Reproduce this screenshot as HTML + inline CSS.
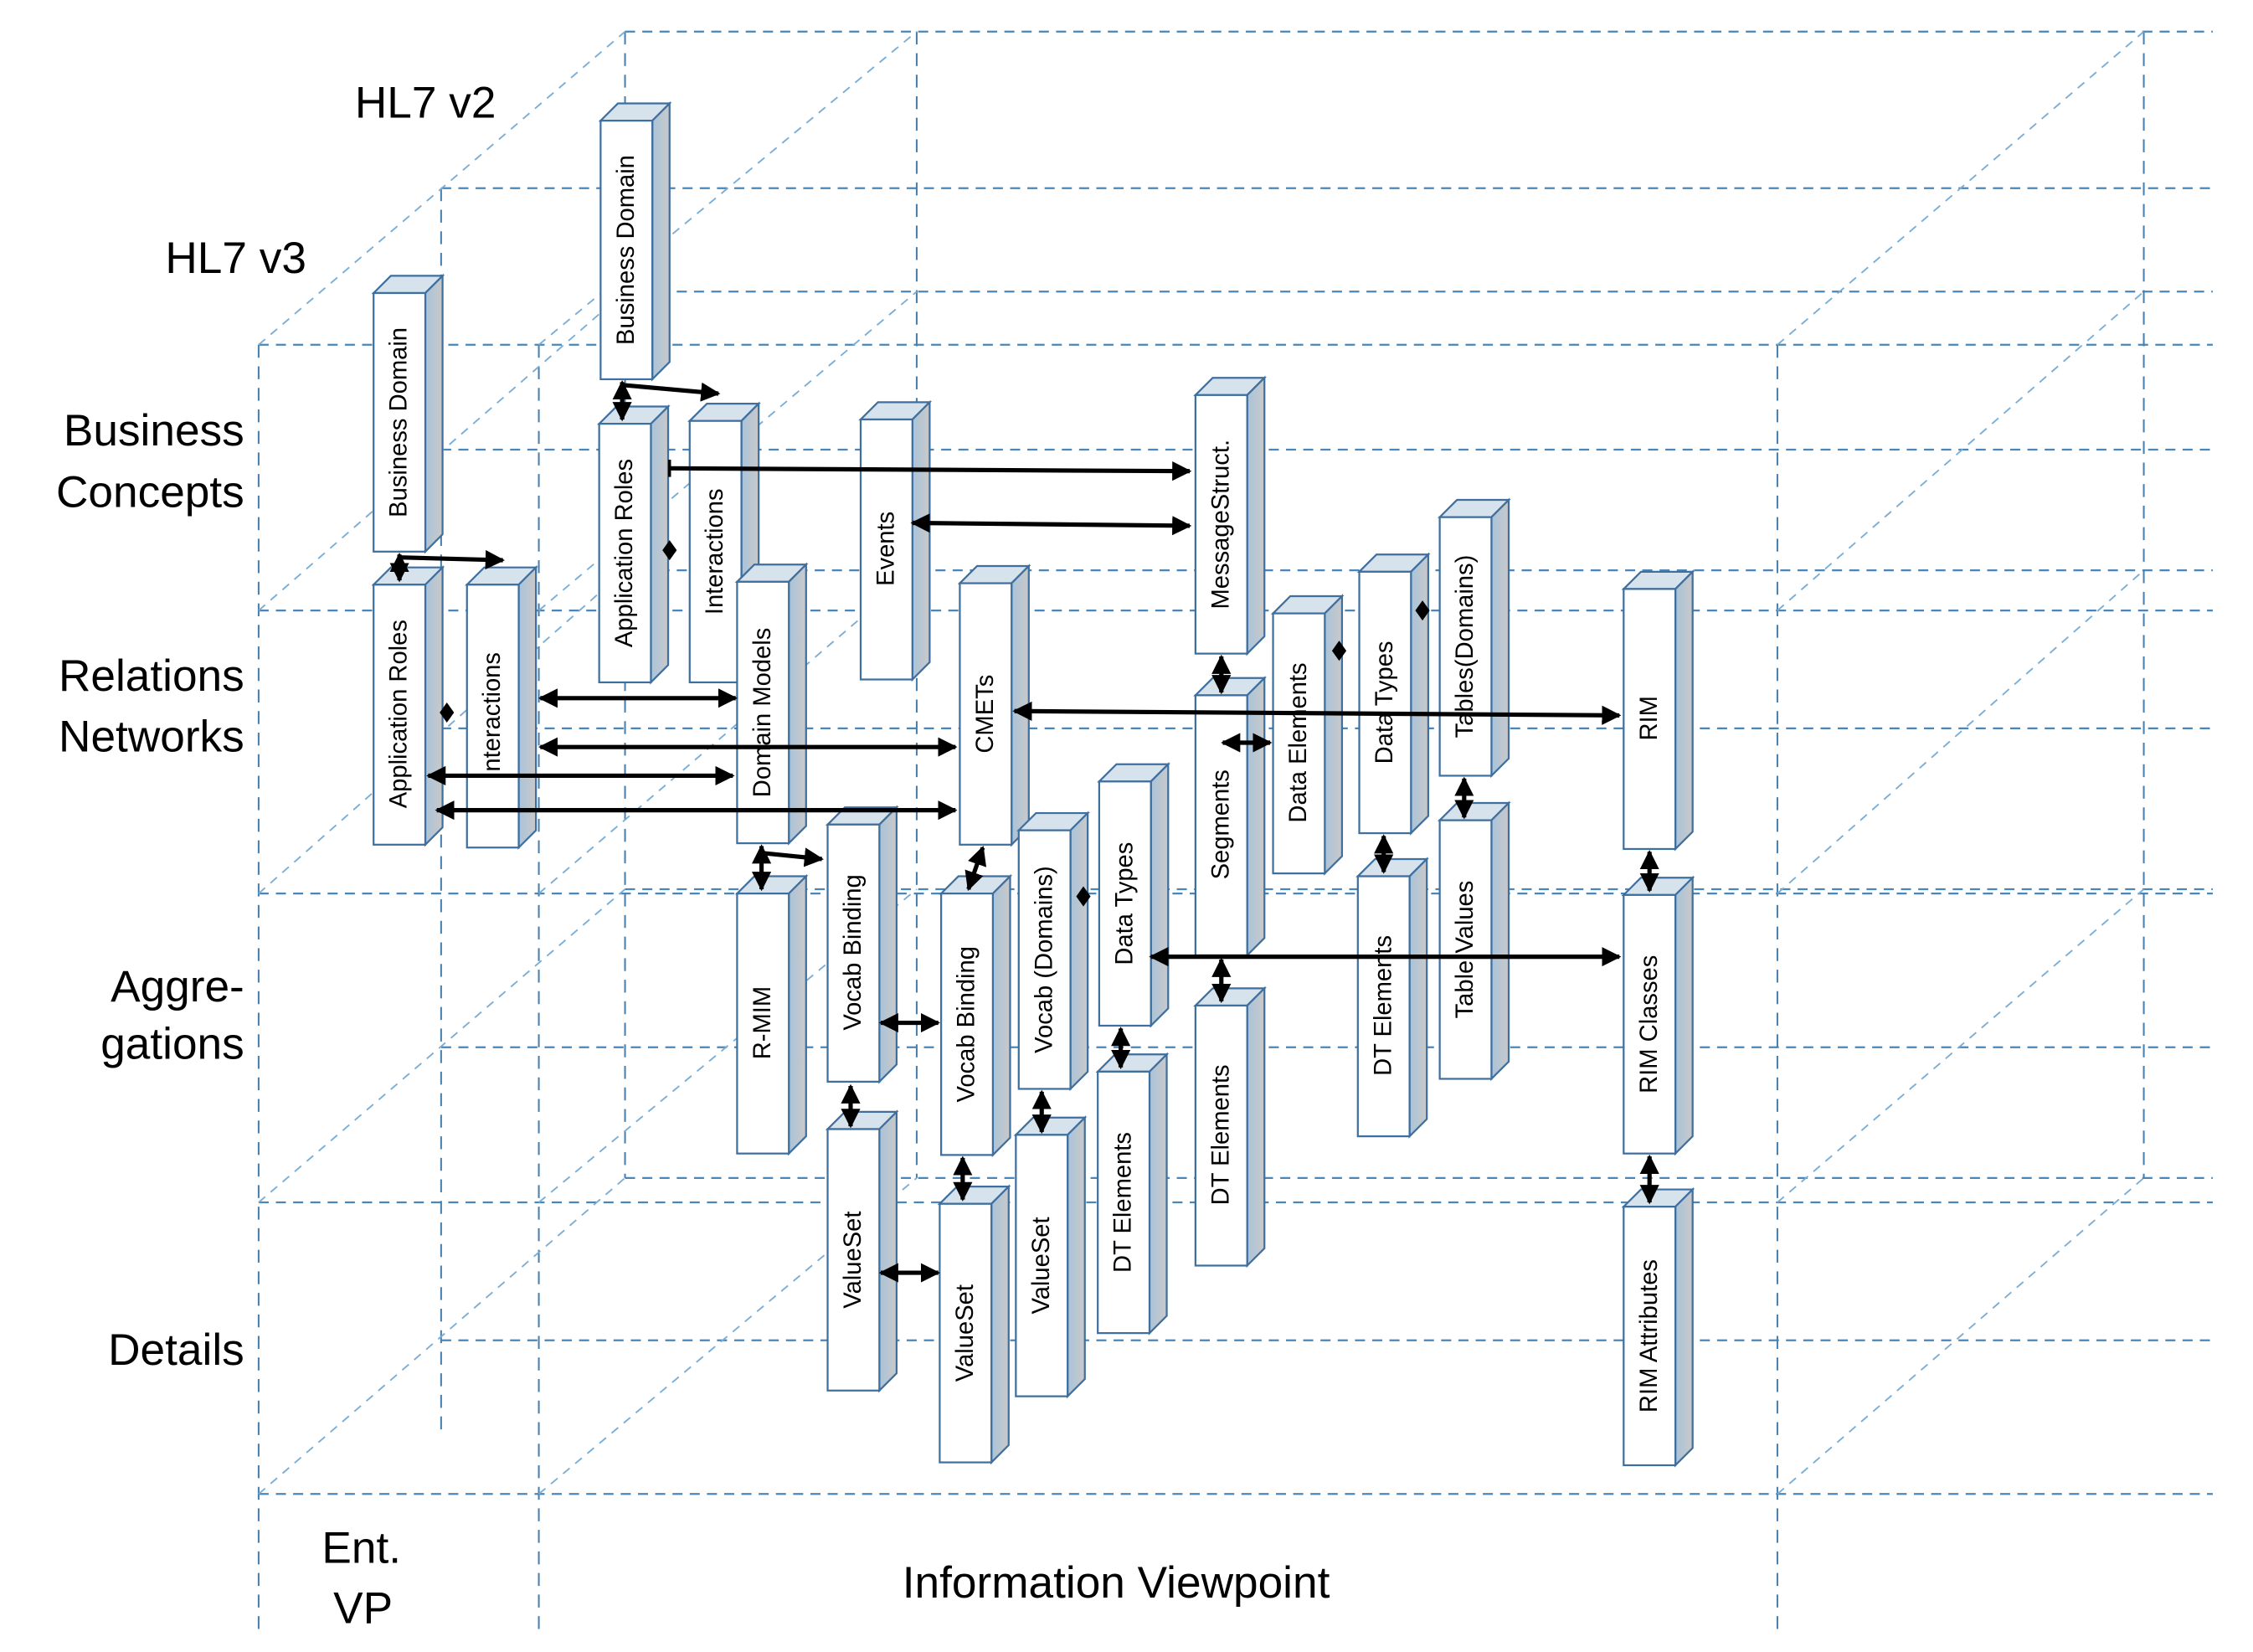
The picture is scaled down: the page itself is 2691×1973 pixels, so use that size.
<!DOCTYPE html>
<html><head><meta charset="utf-8"><style>
html,body{margin:0;padding:0;background:#fff}
svg{display:block}
.t{font-family:"Liberation Sans",sans-serif;font-size:17px;fill:#000}
.L{font-family:"Liberation Sans",sans-serif;font-size:31px;fill:#000}
.h{stroke:#4a86b8;stroke-width:1.3;stroke-dasharray:7 5;fill:none}
.v{stroke:#4a80ad;stroke-width:1.2;stroke-dasharray:9 6;fill:none}
.d{stroke:#7aaed6;stroke-width:1.1;stroke-dasharray:6 5;fill:none}
.c{stroke:#000;stroke-width:3;fill:none}
</style></head><body>
<svg width="2691" height="1973" viewBox="0 0 1568 1150" preserveAspectRatio="none" xmlns="http://www.w3.org/2000/svg">
<defs>
<marker id="a" viewBox="0 0 10 10" refX="9" refY="5" markerWidth="4.5" markerHeight="4.5" orient="auto-start-reverse"><path d="M0,0L10,5L0,10z" fill="#000"/></marker>
<linearGradient id="sg" x1="0" x2="1"><stop offset="0" stop-color="#a9c3da"/><stop offset="1" stop-color="#c9c9c9"/></linearGradient>
<g id="dm"><path d="M0,-7L5,0L0,7L-5,0z" fill="#000"/></g>
</defs>
<!-- grid horizontal lines -->
<g class="h">
<line x1="435" y1="22" x2="1540" y2="22"/>
<line x1="307" y1="131" x2="1540" y2="131"/>
<line x1="435" y1="203" x2="1540" y2="203"/>
<line x1="180" y1="240" x2="1540" y2="240"/>
<line x1="307" y1="313" x2="1540" y2="313"/>
<line x1="435" y1="397" x2="1540" y2="397"/>
<line x1="180" y1="425" x2="1540" y2="425"/>
<line x1="307" y1="507" x2="1540" y2="507"/>
<line x1="435" y1="619" x2="1540" y2="619"/>
<line x1="180" y1="622" x2="1540" y2="622"/>
<line x1="307" y1="729" x2="1540" y2="729"/>
<line x1="435" y1="820" x2="1540" y2="820"/>
<line x1="180" y1="837" x2="1540" y2="837"/>
<line x1="307" y1="933" x2="1540" y2="933"/>
<line x1="180" y1="1040" x2="1540" y2="1040"/>
</g>
<g class="v">
<line x1="435" y1="22" x2="435" y2="820"/>
<line x1="638" y1="22" x2="638" y2="820"/>
<line x1="1492" y1="22" x2="1492" y2="820"/>
<line x1="307" y1="131" x2="307" y2="1000"/>
<line x1="180" y1="240" x2="180" y2="1135"/>
<line x1="375" y1="240" x2="375" y2="1135"/>
<line x1="1237" y1="240" x2="1237" y2="1135"/>
</g>
<g class="d">
<line x1="180" y1="240" x2="435" y2="22"/>
<line x1="180" y1="425" x2="435" y2="203"/>
<line x1="180" y1="622" x2="435" y2="397"/>
<line x1="180" y1="837" x2="435" y2="619"/>
<line x1="180" y1="1040" x2="435" y2="820"/>
<line x1="375" y1="240" x2="638" y2="22"/>
<line x1="375" y1="425" x2="638" y2="203"/>
<line x1="375" y1="622" x2="638" y2="397"/>
<line x1="375" y1="837" x2="638" y2="619"/>
<line x1="375" y1="1040" x2="638" y2="820"/>
<line x1="1237" y1="240" x2="1492" y2="22"/>
<line x1="1237" y1="425" x2="1492" y2="203"/>
<line x1="1237" y1="622" x2="1492" y2="397"/>
<line x1="1237" y1="837" x2="1492" y2="619"/>
<line x1="1237" y1="1040" x2="1492" y2="820"/>
</g>
<!-- labels -->
<text class="L" x="247" y="82">HL7 v2</text>
<text class="L" x="115" y="190">HL7 v3</text>
<text class="L" x="170" y="310" text-anchor="end">Business</text>
<text class="L" x="170" y="353" text-anchor="end">Concepts</text>
<text class="L" x="170" y="481" text-anchor="end">Relations</text>
<text class="L" x="170" y="523" text-anchor="end">Networks</text>
<text class="L" x="170" y="697" text-anchor="end">Aggre-</text>
<text class="L" x="170" y="737" text-anchor="end">gations</text>
<text class="L" x="170" y="950" text-anchor="end">Details</text>
<text class="L" x="224" y="1088">Ent.</text>
<text class="L" x="232" y="1130">VP</text>
<text class="L" x="628" y="1112">Information Viewpoint</text>
<!-- boxes -->
<g id="boxes" stroke="#3f6f9e" stroke-width="1.3">
<script type="text/plain"></script>
</g>
<g stroke="#3f6f9e" stroke-width="1.3">
<!-- helper: each box = top, side, front, text -->
<g transform="translate(418,84)"><polygon points="0,0 12,-12 48,-12 36,0" fill="#d6e2ec"/><polygon points="36,0 48,-12 48,168 36,180" fill="url(#sg)"/><rect width="36" height="180" fill="#fff"/><text class="t" stroke="none" transform="translate(23,90) rotate(-90)" text-anchor="middle">Business Domain</text></g>
<g transform="translate(260,204)"><polygon points="0,0 12,-12 48,-12 36,0" fill="#d6e2ec"/><polygon points="36,0 48,-12 48,168 36,180" fill="url(#sg)"/><rect width="36" height="180" fill="#fff"/><text class="t" stroke="none" transform="translate(23,90) rotate(-90)" text-anchor="middle">Business Domain</text></g>
<g transform="translate(417,295)"><polygon points="0,0 12,-12 48,-12 36,0" fill="#d6e2ec"/><polygon points="36,0 48,-12 48,168 36,180" fill="url(#sg)"/><rect width="36" height="180" fill="#fff"/><text class="t" stroke="none" transform="translate(23,90) rotate(-90)" text-anchor="middle">Application Roles</text></g>
<g transform="translate(480,293)"><polygon points="0,0 12,-12 48,-12 36,0" fill="#d6e2ec"/><polygon points="36,0 48,-12 48,170 36,182" fill="url(#sg)"/><rect width="36" height="182" fill="#fff"/><text class="t" stroke="none" transform="translate(23,91) rotate(-90)" text-anchor="middle">Interactions</text></g>
<g transform="translate(599,292)"><polygon points="0,0 12,-12 48,-12 36,0" fill="#d6e2ec"/><polygon points="36,0 48,-12 48,169 36,181" fill="url(#sg)"/><rect width="36" height="181" fill="#fff"/><text class="t" stroke="none" transform="translate(23,90) rotate(-90)" text-anchor="middle">Events</text></g>
<g transform="translate(832,275)"><polygon points="0,0 12,-12 48,-12 36,0" fill="#d6e2ec"/><polygon points="36,0 48,-12 48,168 36,180" fill="url(#sg)"/><rect width="36" height="180" fill="#fff"/><text class="t" stroke="none" transform="translate(23,90) rotate(-90)" text-anchor="middle">MessageStruct.</text></g>
<g transform="translate(1002,360)"><polygon points="0,0 12,-12 48,-12 36,0" fill="#d6e2ec"/><polygon points="36,0 48,-12 48,168 36,180" fill="url(#sg)"/><rect width="36" height="180" fill="#fff"/><text class="t" stroke="none" transform="translate(23,90) rotate(-90)" text-anchor="middle">Tables(Domains)</text></g>
<g transform="translate(946,398)"><polygon points="0,0 12,-12 48,-12 36,0" fill="#d6e2ec"/><polygon points="36,0 48,-12 48,170 36,182" fill="url(#sg)"/><rect width="36" height="182" fill="#fff"/><text class="t" stroke="none" transform="translate(23,91) rotate(-90)" text-anchor="middle">Data Types</text></g>
<g transform="translate(886,427)"><polygon points="0,0 12,-12 48,-12 36,0" fill="#d6e2ec"/><polygon points="36,0 48,-12 48,169 36,181" fill="url(#sg)"/><rect width="36" height="181" fill="#fff"/><text class="t" stroke="none" transform="translate(23,90) rotate(-90)" text-anchor="middle">Data Elements</text></g>
<g transform="translate(260,407)"><polygon points="0,0 12,-12 48,-12 36,0" fill="#d6e2ec"/><polygon points="36,0 48,-12 48,169 36,181" fill="url(#sg)"/><rect width="36" height="181" fill="#fff"/><text class="t" stroke="none" transform="translate(23,90) rotate(-90)" text-anchor="middle">Application Roles</text></g>
<g transform="translate(325,407)"><polygon points="0,0 12,-12 48,-12 36,0" fill="#d6e2ec"/><polygon points="36,0 48,-12 48,171 36,183" fill="url(#sg)"/><rect width="36" height="183" fill="#fff"/><text class="t" stroke="none" transform="translate(23,91) rotate(-90)" text-anchor="middle">Interactions</text></g>
<g transform="translate(513,405)"><polygon points="0,0 12,-12 48,-12 36,0" fill="#d6e2ec"/><polygon points="36,0 48,-12 48,170 36,182" fill="url(#sg)"/><rect width="36" height="182" fill="#fff"/><text class="t" stroke="none" transform="translate(23,91) rotate(-90)" text-anchor="middle">Domain Models</text></g>
<g transform="translate(668,406)"><polygon points="0,0 12,-12 48,-12 36,0" fill="#d6e2ec"/><polygon points="36,0 48,-12 48,170 36,182" fill="url(#sg)"/><rect width="36" height="182" fill="#fff"/><text class="t" stroke="none" transform="translate(23,91) rotate(-90)" text-anchor="middle">CMETs</text></g>
<g transform="translate(1130,410)"><polygon points="0,0 12,-12 48,-12 36,0" fill="#d6e2ec"/><polygon points="36,0 48,-12 48,169 36,181" fill="url(#sg)"/><rect width="36" height="181" fill="#fff"/><text class="t" stroke="none" transform="translate(23,90) rotate(-90)" text-anchor="middle">RIM</text></g>
<g transform="translate(832,484)"><polygon points="0,0 12,-12 48,-12 36,0" fill="#d6e2ec"/><polygon points="36,0 48,-12 48,169 36,181" fill="url(#sg)"/><rect width="36" height="181" fill="#fff"/><text class="t" stroke="none" transform="translate(23,90) rotate(-90)" text-anchor="middle">Segments</text></g>
<g transform="translate(765,544)"><polygon points="0,0 12,-12 48,-12 36,0" fill="#d6e2ec"/><polygon points="36,0 48,-12 48,158 36,170" fill="url(#sg)"/><rect width="36" height="170" fill="#fff"/><text class="t" stroke="none" transform="translate(23,85) rotate(-90)" text-anchor="middle">Data Types</text></g>
<g transform="translate(1002,571)"><polygon points="0,0 12,-12 48,-12 36,0" fill="#d6e2ec"/><polygon points="36,0 48,-12 48,168 36,180" fill="url(#sg)"/><rect width="36" height="180" fill="#fff"/><text class="t" stroke="none" transform="translate(23,90) rotate(-90)" text-anchor="middle">Table Values</text></g>
<g transform="translate(945,610)"><polygon points="0,0 12,-12 48,-12 36,0" fill="#d6e2ec"/><polygon points="36,0 48,-12 48,169 36,181" fill="url(#sg)"/><rect width="36" height="181" fill="#fff"/><text class="t" stroke="none" transform="translate(23,90) rotate(-90)" text-anchor="middle">DT Elements</text></g>
<g transform="translate(576,574)"><polygon points="0,0 12,-12 48,-12 36,0" fill="#d6e2ec"/><polygon points="36,0 48,-12 48,167 36,179" fill="url(#sg)"/><rect width="36" height="179" fill="#fff"/><text class="t" stroke="none" transform="translate(23,89) rotate(-90)" text-anchor="middle">Vocab Binding</text></g>
<g transform="translate(709,578)"><polygon points="0,0 12,-12 48,-12 36,0" fill="#d6e2ec"/><polygon points="36,0 48,-12 48,168 36,180" fill="url(#sg)"/><rect width="36" height="180" fill="#fff"/><text class="t" stroke="none" transform="translate(23,90) rotate(-90)" text-anchor="middle">Vocab (Domains)</text></g>
<g transform="translate(513,622)"><polygon points="0,0 12,-12 48,-12 36,0" fill="#d6e2ec"/><polygon points="36,0 48,-12 48,169 36,181" fill="url(#sg)"/><rect width="36" height="181" fill="#fff"/><text class="t" stroke="none" transform="translate(23,90) rotate(-90)" text-anchor="middle">R-MIM</text></g>
<g transform="translate(655,622)"><polygon points="0,0 12,-12 48,-12 36,0" fill="#d6e2ec"/><polygon points="36,0 48,-12 48,170 36,182" fill="url(#sg)"/><rect width="36" height="182" fill="#fff"/><text class="t" stroke="none" transform="translate(23,91) rotate(-90)" text-anchor="middle">Vocab Binding</text></g>
<g transform="translate(1130,623)"><polygon points="0,0 12,-12 48,-12 36,0" fill="#d6e2ec"/><polygon points="36,0 48,-12 48,168 36,180" fill="url(#sg)"/><rect width="36" height="180" fill="#fff"/><text class="t" stroke="none" transform="translate(23,90) rotate(-90)" text-anchor="middle">RIM Classes</text></g>
<g transform="translate(832,700)"><polygon points="0,0 12,-12 48,-12 36,0" fill="#d6e2ec"/><polygon points="36,0 48,-12 48,169 36,181" fill="url(#sg)"/><rect width="36" height="181" fill="#fff"/><text class="t" stroke="none" transform="translate(23,90) rotate(-90)" text-anchor="middle">DT Elements</text></g>
<g transform="translate(764,746)"><polygon points="0,0 12,-12 48,-12 36,0" fill="#d6e2ec"/><polygon points="36,0 48,-12 48,170 36,182" fill="url(#sg)"/><rect width="36" height="182" fill="#fff"/><text class="t" stroke="none" transform="translate(23,91) rotate(-90)" text-anchor="middle">DT Elements</text></g>
<g transform="translate(576,786)"><polygon points="0,0 12,-12 48,-12 36,0" fill="#d6e2ec"/><polygon points="36,0 48,-12 48,170 36,182" fill="url(#sg)"/><rect width="36" height="182" fill="#fff"/><text class="t" stroke="none" transform="translate(23,91) rotate(-90)" text-anchor="middle">ValueSet</text></g>
<g transform="translate(707,790)"><polygon points="0,0 12,-12 48,-12 36,0" fill="#d6e2ec"/><polygon points="36,0 48,-12 48,170 36,182" fill="url(#sg)"/><rect width="36" height="182" fill="#fff"/><text class="t" stroke="none" transform="translate(23,91) rotate(-90)" text-anchor="middle">ValueSet</text></g>
<g transform="translate(654,838)"><polygon points="0,0 12,-12 48,-12 36,0" fill="#d6e2ec"/><polygon points="36,0 48,-12 48,168 36,180" fill="url(#sg)"/><rect width="36" height="180" fill="#fff"/><text class="t" stroke="none" transform="translate(23,90) rotate(-90)" text-anchor="middle">ValueSet</text></g>
<g transform="translate(1130,840)"><polygon points="0,0 12,-12 48,-12 36,0" fill="#d6e2ec"/><polygon points="36,0 48,-12 48,168 36,180" fill="url(#sg)"/><rect width="36" height="180" fill="#fff"/><text class="t" stroke="none" transform="translate(23,90) rotate(-90)" text-anchor="middle">RIM Attributes</text></g>
</g>
<!-- connectors -->
<g class="c">
<line x1="278" y1="388" x2="350" y2="390" marker-end="url(#a)"/>
<line x1="278" y1="386" x2="278" y2="404" marker-start="url(#a)" marker-end="url(#a)"/>
<line x1="433" y1="268" x2="500" y2="274" marker-end="url(#a)"/>
<line x1="433" y1="266" x2="433" y2="292" marker-start="url(#a)" marker-end="url(#a)"/>
<line x1="466" y1="326" x2="828" y2="328" marker-end="url(#a)"/>
<line x1="466" y1="320" x2="466" y2="332" stroke-width="2"/>
<line x1="635" y1="364" x2="828" y2="366" marker-start="url(#a)" marker-end="url(#a)"/>
<line x1="376" y1="486" x2="512" y2="486" marker-start="url(#a)" marker-end="url(#a)"/>
<line x1="376" y1="520" x2="665" y2="520" marker-start="url(#a)" marker-end="url(#a)"/>
<line x1="298" y1="540" x2="510" y2="540" marker-start="url(#a)" marker-end="url(#a)"/>
<line x1="304" y1="564" x2="665" y2="564" marker-start="url(#a)" marker-end="url(#a)"/>
<line x1="706" y1="495" x2="1127" y2="498" marker-start="url(#a)" marker-end="url(#a)"/>
<line x1="801" y1="666" x2="1127" y2="666" marker-start="url(#a)" marker-end="url(#a)"/>
<line x1="530" y1="589" x2="530" y2="619" marker-start="url(#a)" marker-end="url(#a)"/>
<line x1="532" y1="594" x2="572" y2="598" marker-end="url(#a)"/>
<line x1="684" y1="590" x2="674" y2="619" marker-start="url(#a)" marker-end="url(#a)"/>
<line x1="613" y1="712" x2="653" y2="712" marker-start="url(#a)" marker-end="url(#a)"/>
<line x1="592" y1="756" x2="592" y2="784" marker-start="url(#a)" marker-end="url(#a)"/>
<line x1="670" y1="806" x2="670" y2="835" marker-start="url(#a)" marker-end="url(#a)"/>
<line x1="725" y1="760" x2="725" y2="788" marker-start="url(#a)" marker-end="url(#a)"/>
<line x1="780" y1="716" x2="780" y2="743" marker-start="url(#a)" marker-end="url(#a)"/>
<line x1="613" y1="886" x2="653" y2="886" marker-start="url(#a)" marker-end="url(#a)"/>
<line x1="850" y1="457" x2="850" y2="482" marker-start="url(#a)" marker-end="url(#a)"/>
<line x1="851" y1="517" x2="884" y2="517" marker-start="url(#a)" marker-end="url(#a)"/>
<line x1="850" y1="668" x2="850" y2="697" marker-start="url(#a)" marker-end="url(#a)"/>
<line x1="963" y1="582" x2="963" y2="607" marker-start="url(#a)" marker-end="url(#a)"/>
<line x1="1019" y1="542" x2="1019" y2="569" marker-start="url(#a)" marker-end="url(#a)"/>
<line x1="1148" y1="593" x2="1148" y2="620" marker-start="url(#a)" marker-end="url(#a)"/>
<line x1="1148" y1="805" x2="1148" y2="837" marker-start="url(#a)" marker-end="url(#a)"/>
</g>
<g>
<use href="#dm" transform="translate(311,496)"/>
<use href="#dm" transform="translate(466,383)"/>
<use href="#dm" transform="translate(754,624)"/>
<use href="#dm" transform="translate(932,453)"/>
<use href="#dm" transform="translate(990,425)"/>
</g>
</svg>
</body></html>
